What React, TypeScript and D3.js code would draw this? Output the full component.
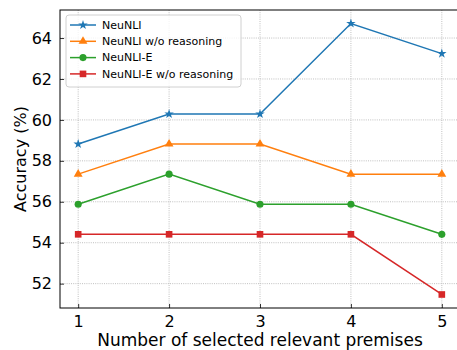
import * as d3 from "d3";
import React, { RefObject, useEffect, useRef } from "react";

const premises = [1, 2, 3, 4, 5];
const neuNLI = [58.82, 60.29, 60.29, 64.71, 63.24];
const neuNLINoReason = [57.35, 58.82, 58.82, 57.35, 57.35];
const neuNLIE = [55.88, 57.35, 55.88, 55.88, 54.41];
const neuNLIENoReason = [54.41, 54.41, 54.41, 54.41, 51.47];
const yTicks = [52, 54, 56, 58, 60, 62, 64];

const seriesNames = ["NeuNLI", "NeuNLI w/o reasoning", "NeuNLI-E", "NeuNLI-E w/o reasoning"];
const seriesValues = [neuNLI, neuNLINoReason, neuNLIE, neuNLIENoReason];
const colors = ["#1f77b4", "#ff7f0e", "#2ca02c", "#d62728"];
const symbols = [d3.symbolStar, d3.symbolTriangle, d3.symbolCircle, d3.symbolSquare];
const symbolSizes = [28, 34, 40, 44];

const width = 457;
const height = 350;
const left = 60;
const right = 460;
const top = 10;
const bottom = 308;

const App = () => {
  const d3Ref: RefObject<HTMLDivElement> = useRef(null);

  useEffect(() => {
    d3.select(d3Ref.current).selectAll("*").remove();
    const svg = d3
      .select(d3Ref.current)
      .append("svg")
      .attr("width", width)
      .attr("height", height)
      .style("font-family", "DejaVu Sans")
      .style("display", "block");

    const x = d3.scaleLinear().domain([0.8, 5.2]).range([left, right]);
    const y = d3.scaleLinear().domain([50.81, 65.37]).range([bottom, top]);

    svg.append("rect").attr("width", width).attr("height", height).attr("fill", "white");

    // grid
    const grid = svg.append("g").attr("stroke", "#b0b0b0").attr("stroke-width", 0.8).attr("stroke-dasharray", "1,1.2");
    premises.forEach((p) => {
      grid.append("line").attr("x1", x(p)).attr("x2", x(p)).attr("y1", top).attr("y2", bottom);
    });
    yTicks.forEach((t) => {
      grid.append("line").attr("x1", left).attr("x2", right).attr("y1", y(t)).attr("y2", y(t));
    });

    // axes
    const xAxis = svg
      .append("g")
      .attr("transform", `translate(0, ${bottom})`)
      .call(d3.axisBottom(x).tickValues(premises).tickFormat(d3.format("d")).tickSizeInner(-4).tickSizeOuter(0).tickPadding(8));
    const yAxis = svg
      .append("g")
      .attr("transform", `translate(${left}, 0)`)
      .call(d3.axisLeft(y).tickValues(yTicks).tickSizeInner(-4).tickSizeOuter(0).tickPadding(8));
    [xAxis, yAxis].forEach((a) => {
      a.selectAll("text").attr("font-size", 16).attr("fill", "black").attr("font-family", "DejaVu Sans");
      a.selectAll("line").attr("stroke", "black").attr("stroke-width", 0.8);
      a.select(".domain").remove();
    });

    svg
      .append("rect")
      .attr("x", left)
      .attr("y", top)
      .attr("width", right - left)
      .attr("height", bottom - top)
      .attr("fill", "none")
      .attr("stroke", "black")
      .attr("stroke-width", 1);

    svg
      .append("text")
      .attr("x", (left + right) / 2)
      .attr("y", 346)
      .attr("text-anchor", "middle")
      .attr("font-size", 17)
      .text("Number of selected relevant premises");

    svg
      .append("text")
      .attr("transform", `translate(26, ${(top + bottom) / 2}) rotate(-90)`)
      .attr("text-anchor", "middle")
      .attr("font-size", 16)
      .text("Accuracy (%)");

    const line = d3
      .line<number>()
      .x((d, i) => x(premises[i]))
      .y((d) => y(d));

    seriesValues.forEach((vals, s) => {
      svg
        .append("path")
        .datum(vals)
        .attr("d", line)
        .attr("fill", "none")
        .attr("stroke", colors[s])
        .attr("stroke-width", 1.5);
      svg
        .selectAll(`.m${s}`)
        .data(vals)
        .enter()
        .append("path")
        .attr("class", `m${s}`)
        .attr("transform", (d, i) => `translate(${x(premises[i])}, ${y(d)})`)
        .attr("d", d3.symbol().type(symbols[s]).size(symbolSizes[s]))
        .attr("fill", colors[s]);
    });

    // legend
    const lg = svg.append("g").attr("transform", "translate(66, 15)");
    lg.append("rect")
      .attr("width", 175)
      .attr("height", 72)
      .attr("rx", 3)
      .attr("fill", "white")
      .attr("fill-opacity", 0.8)
      .attr("stroke", "#d0d0d0")
      .attr("stroke-width", 1);
    seriesNames.forEach((name, s) => {
      const ry = 10 + s * 16.3;
      lg.append("line")
        .attr("x1", 4)
        .attr("x2", 30)
        .attr("y1", ry)
        .attr("y2", ry)
        .attr("stroke", colors[s])
        .attr("stroke-width", 1.5);
      lg.append("path")
        .attr("transform", `translate(17, ${ry})`)
        .attr("d", d3.symbol().type(symbols[s]).size(symbolSizes[s]))
        .attr("fill", colors[s]);
      lg.append("text")
        .attr("x", 36)
        .attr("y", ry)
        .attr("dy", "0.35em")
        .attr("font-size", 11)
        .text(name);
    });
  }, [d3Ref]);

  return (
    <div style={{ position: "absolute", left: 0, top: 0 }}>
      <div ref={d3Ref} />
    </div>
  );
};

export default App;
